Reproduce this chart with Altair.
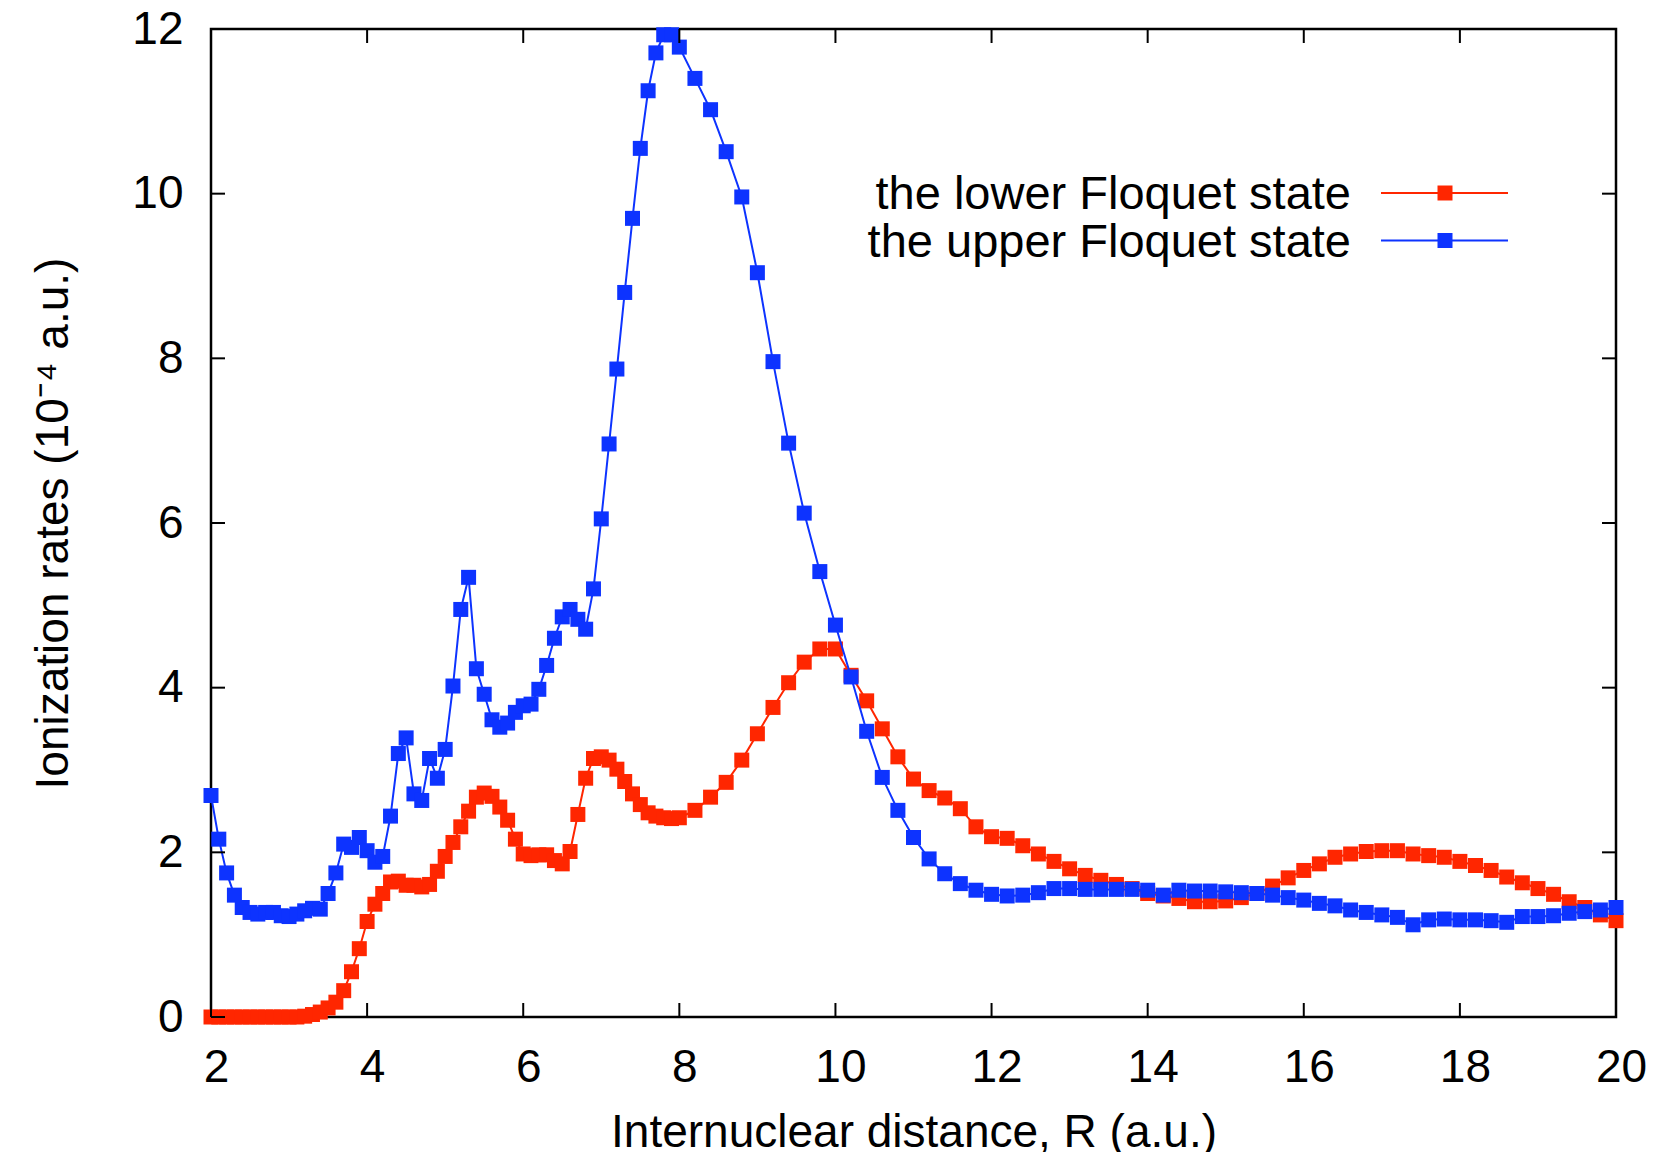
import altair as alt
import pandas as pd

SERIES = ["the lower Floquet state", "the upper Floquet state"]
COLORS = ["#ff2600", "#0d33ff"]

# R grid: 0.1 steps from 2.0 to 8.0, then 0.2 steps from 8.2 to 20.0
R_FINE = [round(2.0 + 0.1 * i, 1) for i in range(61)]
R_COARSE = [round(8.2 + 0.2 * i, 1) for i in range(60)]
R_ALL = R_FINE + R_COARSE

LOWER_FINE = [
    0.00, 0.00, 0.00, 0.00, 0.00, 0.00, 0.00, 0.00, 0.00, 0.00,  # 2.0-2.9
    0.00, 0.00, 0.01, 0.03, 0.06, 0.11, 0.18, 0.32, 0.55, 0.83,  # 3.0-3.9
    1.16, 1.37, 1.50, 1.64, 1.65, 1.60, 1.60, 1.58, 1.61, 1.77,  # 4.0-4.9
    1.95, 2.12, 2.31, 2.50, 2.67, 2.72, 2.68, 2.55, 2.39, 2.16,  # 5.0-5.9
    1.98, 1.96, 1.97, 1.97, 1.90, 1.86, 2.01, 2.46, 2.90, 3.14,  # 6.0-6.9
    3.16, 3.12, 3.01, 2.86, 2.71, 2.58, 2.48, 2.44, 2.42, 2.41,  # 7.0-7.9
    2.42,                                                        # 8.0
]
LOWER_COARSE = [
    2.51, 2.67, 2.85, 3.12, 3.44,  # 8.2-9.0
    3.76, 4.06, 4.31, 4.47, 4.47,  # 9.2-10.0
    4.15, 3.84, 3.50, 3.16, 2.89,  # 10.2-11.0
    2.75, 2.66, 2.53, 2.31, 2.19,  # 11.2-12.0
    2.17, 2.08, 1.98, 1.89, 1.80,  # 12.2-13.0
    1.72, 1.66, 1.61, 1.56, 1.50,  # 13.2-14.0
    1.47, 1.44, 1.40, 1.40, 1.41,  # 14.2-15.0
    1.45, 1.50, 1.59, 1.69, 1.78,  # 15.2-16.0
    1.86, 1.94, 1.98, 2.01, 2.02,  # 16.2-17.0
    2.02, 1.98, 1.96, 1.94, 1.89,  # 17.2-18.0
    1.84, 1.78, 1.70, 1.63, 1.56,  # 18.2-19.0
    1.49, 1.40, 1.33, 1.24, 1.17,  # 19.2-20.0
]

UPPER_FINE = [
    2.69, 2.16, 1.75, 1.48, 1.33, 1.27, 1.25, 1.27, 1.27, 1.23,  # 2.0-2.9
    1.22, 1.25, 1.29, 1.32, 1.31, 1.50, 1.75, 2.10, 2.06, 2.18,  # 3.0-3.9
    2.02, 1.88, 1.95, 2.44, 3.20, 3.39, 2.71, 2.63, 3.14, 2.90,  # 4.0-4.9
    3.25, 4.02, 4.95, 5.34, 4.23, 3.92, 3.61, 3.52, 3.57, 3.70,  # 5.0-5.9
    3.78, 3.80, 3.98, 4.27, 4.60, 4.86, 4.95, 4.83, 4.71, 5.20,  # 6.0-6.9
    6.05, 6.96, 7.87, 8.80, 9.70, 10.55, 11.25, 11.71, 11.93, 11.93,  # 7.0-7.9
    11.78,                                                       # 8.0
]
UPPER_COARSE = [
    11.40, 11.02, 10.51, 9.96, 9.04,  # 8.2-9.0
    7.96, 6.97, 6.12, 5.41, 4.76,     # 9.2-10.0
    4.13, 3.47, 2.91, 2.51, 2.18,     # 10.2-11.0
    1.92, 1.74, 1.62, 1.54, 1.49,     # 11.2-12.0
    1.47, 1.48, 1.51, 1.56, 1.56,     # 12.2-13.0
    1.55, 1.55, 1.55, 1.55, 1.54,     # 13.2-14.0
    1.48, 1.54, 1.53, 1.53, 1.52,     # 14.2-15.0
    1.51, 1.50, 1.48, 1.45, 1.42,     # 15.2-16.0
    1.38, 1.35, 1.30, 1.27, 1.24,     # 16.2-17.0
    1.21, 1.12, 1.18, 1.19, 1.18,     # 17.2-18.0
    1.18, 1.17, 1.15, 1.22, 1.22,     # 18.2-19.0
    1.23, 1.26, 1.28, 1.30, 1.33,     # 19.2-20.0
]

X_TICKS = [2, 4, 6, 8, 10, 12, 14, 16, 18, 20]
Y_TICKS = [0, 2, 4, 6, 8, 10, 12]

X_TITLE = "Internuclear distance, R (a.u.)"
Y_TITLE = "Ionization rates (10\u207b\u2074 a.u.)"

FONT = "Liberation Sans"
FS = 46
W, H = 1405, 988
TICK = 14

lower = LOWER_FINE + LOWER_COARSE
upper = UPPER_FINE + UPPER_COARSE
rows = []
for r, v in zip(R_ALL, lower):
    rows.append({"R": r, "rate": v, "series": SERIES[0]})
for r, v in zip(R_ALL, upper):
    rows.append({"R": r, "rate": v, "series": SERIES[1]})
df = pd.DataFrame(rows)

xscale = alt.Scale(domain=[2, 20], nice=False, zero=False)
yscale = alt.Scale(domain=[0, 12], nice=False, zero=True)
cscale = alt.Scale(domain=SERIES, range=COLORS)

x_axis = alt.Axis(
    values=X_TICKS, title=X_TITLE, labelPadding=28, labelFlush=False, labelOffset=5,
    titleY=129, titleBaseline="alphabetic", titleX=W / 2,
)
y_axis = alt.Axis(
    values=Y_TICKS, title=Y_TITLE, labelPadding=28, labelFlush=False,
    titleX=-144, titleY=H / 2, titleAngle=270, titleBaseline="alphabetic",
    titleAlign="center",
)

base = alt.Chart(df)
layers = []
for i, s in enumerate(SERIES):
    sub = base.transform_filter(alt.datum.series == s)
    enc = dict(
        x=alt.X("R:Q", scale=xscale, axis=x_axis, title=X_TITLE),
        y=alt.Y("rate:Q", scale=yscale, axis=y_axis, title=Y_TITLE),
        color=alt.Color("series:N", scale=cscale, legend=None),
    )
    layers.append(sub.mark_line(strokeWidth=2).encode(**enc))
    layers.append(
        sub.mark_point(shape="square", filled=True, size=225, opacity=1).encode(**enc)
    )

# inward tick marks on all four sides
xt = alt.Chart(pd.DataFrame({"t": X_TICKS}))
yt = alt.Chart(pd.DataFrame({"t": Y_TICKS}))
tick_style = dict(color="black", strokeWidth=2)
xenc = alt.X("t:Q", scale=xscale, axis=x_axis, title=X_TITLE)
yenc = alt.Y("t:Q", scale=yscale, axis=y_axis, title=Y_TITLE)
layers.append(xt.mark_rule(**tick_style).encode(
    x=xenc, y=alt.value(H), y2=alt.value(H - TICK)))
layers.append(xt.mark_rule(**tick_style).encode(
    x=xenc, y=alt.value(0), y2=alt.value(TICK)))
layers.append(yt.mark_rule(**tick_style).encode(
    y=yenc, x=alt.value(0), x2=alt.value(TICK)))
layers.append(yt.mark_rule(**tick_style).encode(
    y=yenc, x=alt.value(W - TICK), x2=alt.value(W)))

# key (text on the left, line + marker on the right)
key_rows = [164, 211.5]
for s, c, ky in zip(SERIES, COLORS, key_rows):
    kd = alt.Chart(pd.DataFrame({"label": [s]}))
    layers.append(kd.mark_text(
        align="right", baseline="middle", font=FONT, fontSize=47, color="black"
    ).encode(text="label:N", x=alt.value(1140), y=alt.value(ky + 2)))
    layers.append(kd.mark_rule(color=c, strokeWidth=2).encode(
        x=alt.value(1170), x2=alt.value(1297), y=alt.value(ky)))
    layers.append(kd.mark_point(shape="square", filled=True, size=225, opacity=1, color=c).encode(
        x=alt.value(1234), y=alt.value(ky)))

chart = alt.layer(*layers).properties(
    width=W, height=H,
    autosize=alt.AutoSizeParams(type="none"),
    padding={"left": 203, "top": 21, "right": 30, "bottom": 135},
).configure_view(
    stroke="black", strokeWidth=2.5
).configure_axis(
    grid=False, domain=False, ticks=False,
    labelFont=FONT, labelFontSize=FS, labelColor="black",
    titleFont=FONT, titleFontSize=FS, titleColor="black", titleFontWeight="normal",
)

chart.save("out.html", embed_options={"renderer": "svg", "actions": False})
